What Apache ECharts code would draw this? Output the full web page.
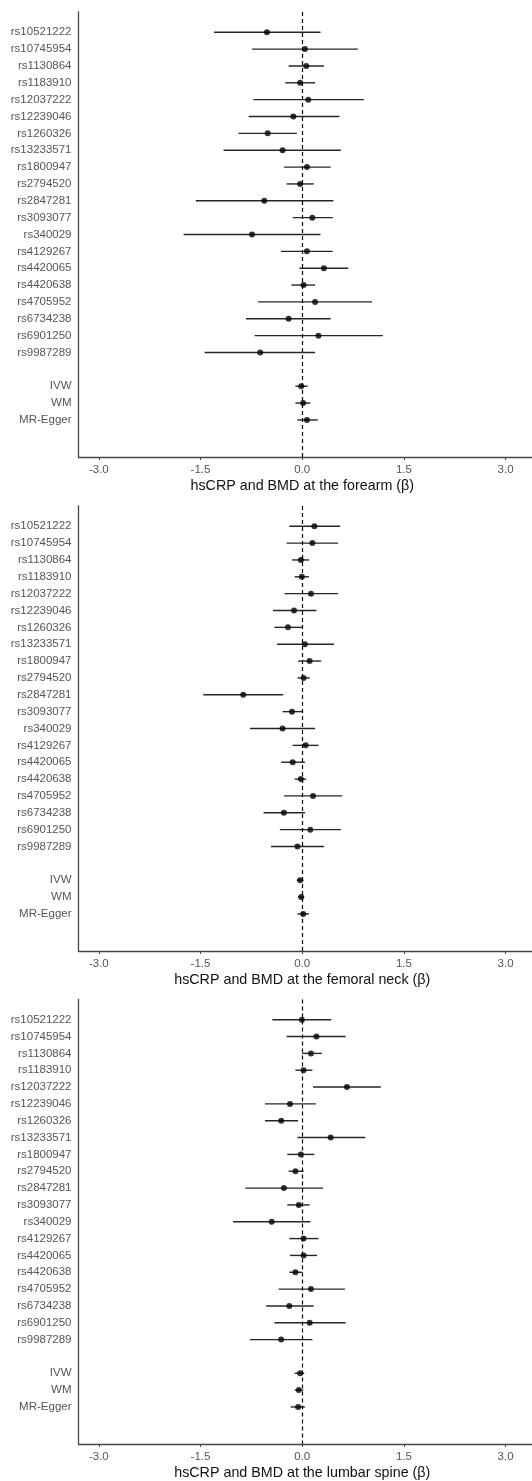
<!DOCTYPE html>
<html>
<head>
<meta charset="utf-8">
<script src="https://cdn.jsdelivr.net/npm/echarts@6/dist/echarts.min.js"></script>
<style>
html,body{margin:0;padding:0;background:#fff;}
#chart{width:532px;height:1481px;}
</style>
</head>
<body>
<div id="chart"></div>
<script>
// Row labels (blank row separates SNPs from MR methods)
const rowLabels = ['rs10521222','rs10745954','rs1130864','rs1183910','rs12037222','rs12239046','rs1260326','rs13233571','rs1800947','rs2794520','rs2847281','rs3093077','rs340029','rs4129267','rs4420065','rs4420638','rs4705952','rs6734238','rs6901250','rs9987289','','IVW','WM','MR-Egger'];

const xTicks = [-3.0, -1.5, 0.0, 1.5, 3.0];

const panelTitles = ['hsCRP and BMD at the forearm (\u03b2)', 'hsCRP and BMD at the femoral neck (\u03b2)', 'hsCRP and BMD at the lumbar spine (\u03b2)'];

// Forearm
const forearmBeta = [-0.52, 0.04, 0.06, -0.03, 0.09, -0.13, -0.51, -0.29, 0.07, -0.03, -0.56, 0.15, -0.74, 0.07, 0.32, 0.02, 0.19, -0.20, 0.24, -0.62, null, -0.015, 0.015, 0.07];
const forearmLow  = [-1.30, -0.74, -0.20, -0.25, -0.72, -0.79, -0.94, -1.16, -0.27, -0.23, -1.57, -0.14, -1.75, -0.31, -0.04, -0.16, -0.65, -0.83, -0.70, -1.44, null, -0.10, -0.10, -0.07];
const forearmHigh = [0.27, 0.82, 0.32, 0.19, 0.91, 0.55, -0.08, 0.57, 0.42, 0.17, 0.46, 0.45, 0.27, 0.45, 0.68, 0.19, 1.03, 0.42, 1.19, 0.19, null, 0.08, 0.12, 0.23];

// Femoral neck
const femoralBeta = [0.18, 0.15, -0.02, -0.005, 0.13, -0.12, -0.21, 0.04, 0.11, 0.02, -0.87, -0.15, -0.29, 0.05, -0.14, -0.02, 0.16, -0.27, 0.12, -0.07, null, -0.03, -0.015, 0.015];
const femoralLow  = [-0.19, -0.23, -0.15, -0.11, -0.26, -0.43, -0.41, -0.37, -0.06, -0.07, -1.46, -0.29, -0.77, -0.14, -0.31, -0.11, -0.27, -0.57, -0.33, -0.46, null, -0.08, -0.06, -0.07];
const femoralHigh = [0.56, 0.53, 0.10, 0.10, 0.53, 0.21, 0.00, 0.47, 0.28, 0.11, -0.28, 0.00, 0.19, 0.24, 0.04, 0.06, 0.59, 0.04, 0.57, 0.32, null, 0.02, 0.03, 0.10];

// Lumbar spine
const lumbarBeta = [-0.005, 0.21, 0.13, 0.02, 0.66, -0.18, -0.31, 0.42, -0.02, -0.10, -0.27, -0.05, -0.45, 0.02, 0.02, -0.10, 0.13, -0.19, 0.11, -0.31, null, -0.03, -0.05, -0.06];
const lumbarLow  = [-0.44, -0.23, 0.00, -0.10, 0.16, -0.55, -0.55, -0.07, -0.22, -0.20, -0.84, -0.22, -1.02, -0.19, -0.18, -0.19, -0.35, -0.53, -0.41, -0.77, null, -0.11, -0.11, -0.17];
const lumbarHigh = [0.43, 0.64, 0.29, 0.15, 1.16, 0.20, -0.06, 0.93, 0.18, 0.02, 0.31, 0.11, 0.12, 0.24, 0.22, 0.00, 0.63, 0.17, 0.64, 0.15, null, 0.03, 0.015, 0.04];

const panels = [
  {beta: forearmBeta, low: forearmLow, high: forearmHigh},
  {beta: femoralBeta, low: femoralLow, high: femoralHigh},
  {beta: lumbarBeta, low: lumbarLow, high: lumbarHigh}
];

const FONT = 'Liberation Sans, Arial, sans-serif';
const gridTops = [12, 506, 999.5];
const gridH = 445;

const grids = [], xAxes = [], yAxes = [], series = [];
const labelRows = [];
rowLabels.forEach((l, i) => { if (l !== '') labelRows.push(i); });

panels.forEach((p, k) => {
  grids.push({left: 78.5, right: 0, top: gridTops[k], height: gridH, containLabel: false});
  xAxes.push({
    type: 'value', gridIndex: k, min: -3.3, max: 3.39,
    splitLine: {show: false},
    axisLine: {show: true, onZero: false, lineStyle: {color: '#444', width: 1.3}},
    axisTick: {show: true, length: 3, customValues: xTicks, lineStyle: {color: '#444', width: 1}},
    axisLabel: {show: true, customValues: xTicks, margin: 7, color: '#555', fontSize: 11.5, fontFamily: FONT,
      formatter: v => v.toFixed(1)},
    name: panelTitles[k], nameLocation: 'middle', nameGap: 22,
    nameTextStyle: {color: '#111', fontSize: 14.3, fontFamily: FONT, verticalAlign: 'top', padding: [0, 6, 0, 0]}
  });
  yAxes.push({
    type: 'value', gridIndex: k, min: -1.2, max: 25.2, inverse: true,
    splitLine: {show: false},
    axisLine: {show: true, onZero: false, lineStyle: {color: '#444', width: 1.3}},
    axisTick: {show: false},
    axisLabel: {show: true, customValues: labelRows, margin: 7, color: '#555', fontSize: 11.5, fontFamily: FONT,
      formatter: v => rowLabels[Math.round(v)] || ''}
  });
  const rows = [];
  const pts = [];
  rowLabels.forEach((l, i) => {
    if (p.beta[i] === null) return;
    rows.push([p.low[i], p.high[i], i]);
    pts.push([p.beta[i], i]);
  });
  series.push({
    type: 'custom', xAxisIndex: k, yAxisIndex: k, silent: true,
    data: rows,
    encode: {x: [0, 1], y: 2},
    renderItem: function (params, api) {
      const a = api.coord([api.value(0), api.value(2)]);
      const b = api.coord([api.value(1), api.value(2)]);
      return {type: 'line', shape: {x1: a[0], y1: a[1], x2: b[0], y2: b[1]},
        style: {stroke: '#262626', lineWidth: 1.4}};
    },
    z: 2
  });
  series.push({
    type: 'scatter', xAxisIndex: k, yAxisIndex: k, silent: true,
    data: pts, symbol: 'circle', symbolSize: 6,
    itemStyle: {color: '#000'},
    z: 4,
    markLine: {
      silent: true, symbol: ['none', 'none'], label: {show: false},
      lineStyle: {type: [4, 3], color: '#000', width: 1.2},
      data: [{xAxis: 0}],
      z: 3
    }
  });
});

const chart = echarts.init(document.getElementById('chart'), null, {renderer: 'canvas'});
chart.setOption({
  animation: false,
  backgroundColor: '#fff',
  grid: grids,
  xAxis: xAxes,
  yAxis: yAxes,
  series: series
});
</script>
</body>
</html>
